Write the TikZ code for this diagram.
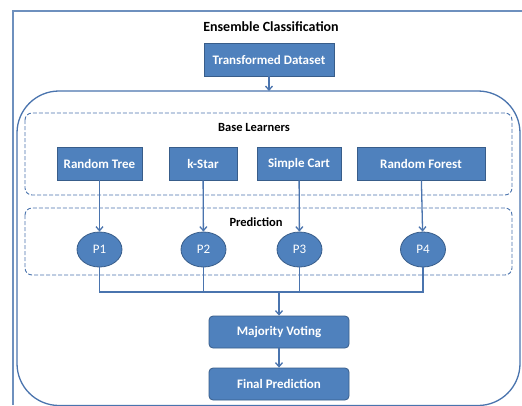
\documentclass[tikz,border=0pt]{standalone}
\usepackage{fontspec}
\setmainfont{Carlito}
\usetikzlibrary{arrows.meta,shapes.geometric}
\definecolor{boxblue}{HTML}{4F81BD}
\definecolor{boxedge}{HTML}{385D8A}
\definecolor{framecol}{HTML}{4A74AE}
\tikzset{
  learner/.style={draw=boxedge, fill=boxblue, text=white, font=\bfseries\fontsize{13}{15}\selectfont,
    minimum height=33pt, inner sep=0pt, line width=0.8pt},
  result/.style={learner, rounded corners=4pt, minimum width=140pt, minimum height=32pt},
  pred/.style={ellipse, draw=boxedge, fill=boxblue, text=white, font=\fontsize{13}{15}\selectfont,
    minimum width=45pt, minimum height=35pt, inner sep=0pt, line width=0.8pt},
  group/.style={draw=framecol, line width=0.9pt, dash pattern=on 4pt off 2pt, rounded corners=7pt},
  flow/.style={draw=framecol, line width=1.3pt},
  label/.style={font=\bfseries\fontsize{12.5}{15}\selectfont}
}
\begin{document}
\begin{tikzpicture}[x=1pt, y=-1pt, >={Straight Barb[length=4pt,width=7pt]}]
\useasboundingbox (0,0) rectangle (522,405);
\fill[white] (0,0) rectangle (522,405);

% outer frame
\draw[draw=framecol!80, line width=1.4pt] (522,11) -- (13,11) -- (13,405);
\node[font=\bfseries\fontsize{14}{16}\selectfont] (title) at (271,27) {Ensemble Classification};
\node[learner, minimum width=130pt] (data) at (269,59.5) {Transformed Dataset};

% ensemble block
\draw[flow, rounded corners=42pt] (17,300) -- (17,91) -- (520,91) -- (520,405.5) -- (17,405.5) -- (17,300);
\coordinate (top) at (269,91);
\draw[flow, ->] (data) -- (top);

% base learners
\draw[group] (25,113) rectangle (512,195);
\node[label] (baselbl) at (254,127) {Base Learners};
\node[learner, minimum width=85pt] (rtree) at (99.5,163.5) {Random Tree};
\node[learner, minimum width=68pt] (kstar) at (203,163.5) {k-Star};
\node[learner, minimum width=84pt] (cart) at (299,163.5) {Simple Cart};
\node[learner, minimum width=128pt] (rforest) at (421,163.5) {Random Forest};

% predictions
\draw[group] (25,208) rectangle (512,275);
\node[label] (predlbl) at (256,222) {Prediction};
\node[pred] (p1) at (99.5,249.5) {P1};
\node[pred] (p2) at (203.5,249.5) {P2};
\node[pred] (p3) at (299.5,249.5) {P3};
\node[pred] (p4) at (423,249.5) {P4};

\draw[flow, ->] (rtree) -- (p1);
\draw[flow, ->] (kstar) -- (p2);
\draw[flow, ->] (cart) -- (p3);
\draw[flow, ->] (rforest) -- (p4);

% voting
\coordinate (join) at (279,292);
\node[result] (vote) at (279,332) {Majority Voting};
\node[result] (final) at (279,384) {Final Prediction};
\draw[flow] (p1) -- (p1 |- join) -- (p4 |- join) -- (p4);
\draw[flow] (p2) -- (p2 |- join);
\draw[flow] (p3) -- (p3 |- join);
\draw[flow, ->] (join) -- (vote);
\draw[flow, ->] (vote) -- (final);
\end{tikzpicture}
\end{document}
